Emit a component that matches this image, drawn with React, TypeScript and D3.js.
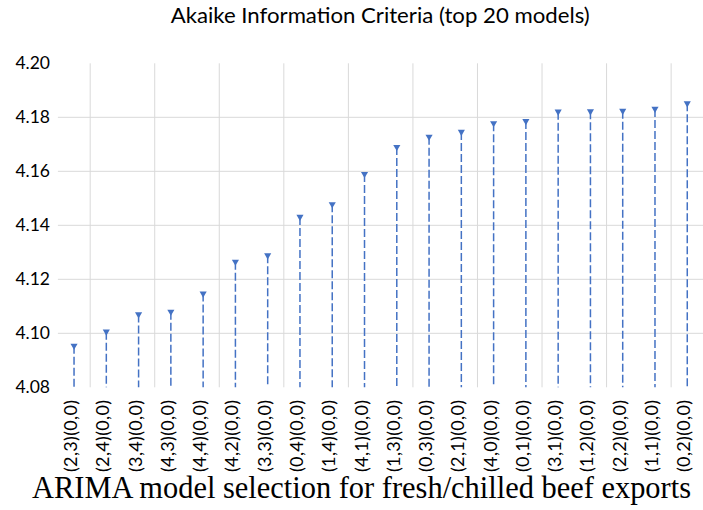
import React from "react";
import * as d3 from "d3";

const models = [
  "(2,3)(0,0)", "(2,4)(0,0)", "(3,4)(0,0)", "(4,3)(0,0)", "(4,4)(0,0)",
  "(4,2)(0,0)", "(3,3)(0,0)", "(0,4)(0,0)", "(1,4)(0,0)", "(4,1)(0,0)",
  "(1,3)(0,0)", "(0,3)(0,0)", "(2,1)(0,0)", "(4,0)(0,0)", "(0,1)(0,0)",
  "(3,1)(0,0)", "(1,2)(0,0)", "(2,2)(0,0)", "(1,1)(0,0)", "(0,2)(0,0)",
];
const aicValues = [
  4.0954, 4.1006, 4.107, 4.108, 4.1147,
  4.1265, 4.1289, 4.1431, 4.1478, 4.159,
  4.169, 4.1728, 4.1746, 4.1778, 4.1786,
  4.1821, 4.1822, 4.1824, 4.1831, 4.1852,
];
const yTicks = [4.08, 4.1, 4.12, 4.14, 4.16, 4.18, 4.2];
const gridTicks = [4.1, 4.12, 4.14, 4.16, 4.18];
const titleText = "Akaike Information Criteria (top 20 models)";
const captionText = "ARIMA model selection for fresh/chilled beef exports";

const W = 703;
const H = 510;
const BLUE = "#4472C4";
const GRID = "#D9D9D9";

export default function App() {
  const x = d3.scaleBand<string>().domain(models).range([57.9, 703.4]).padding(0);
  const y = d3.scaleLinear().domain([4.08, 4.2]).range([387.3, 63.3]);
  const bw = x.bandwidth();
  const fmt = d3.format(".2f");
  const vGrid = d3.range(1, models.length, 2).map((k) => 57.9 + bw * k);
  const tri = d3.symbol().type(d3.symbolTriangle).size(22)();

  return (
    <svg
      width={W}
      height={H}
      style={{ position: "absolute", left: 0, top: 0, display: "block", background: "#fff" }}
    >
      <rect x={0} y={0} width={W} height={H} fill="#fff" />
      {gridTicks.map((t) => (
        <line key={"h" + t} x1={57.9} x2={703.4} y1={y(t)} y2={y(t)} stroke={GRID} strokeWidth={1} />
      ))}
      {vGrid.map((gx, i) => (
        <line key={"v" + i} x1={gx} x2={gx} y1={y(4.2)} y2={y(4.08)} stroke={GRID} strokeWidth={1} />
      ))}
      {yTicks.map((t) => (
        <text
          key={"yt" + t}
          x={50}
          y={y(t)}
          dy="0.33em"
          textAnchor="end"
          fontFamily="Lato, 'Open Sans', sans-serif"
          fontSize={17.5}
          fill="#000"
        >
          {fmt(t)}
        </text>
      ))}
      {models.map((m, i) => {
        const cx = (x(m) as number) + bw / 2;
        const cy = y(aicValues[i]);
        return (
          <g key={m}>
            <line
              x1={cx}
              x2={cx}
              y1={cy}
              y2={y(4.08)}
              stroke={BLUE}
              strokeWidth={1.5}
              strokeDasharray="8,3"
            />
            <path d={tri as string} transform={`translate(${cx},${cy}) rotate(180)`} fill={BLUE} />
          </g>
        );
      })}
      {models.map((m) => {
        const cx = (x(m) as number) + bw / 2;
        return (
          <text
            key={"xl" + m}
            transform={`translate(${cx + 3},400) rotate(-90)`}
            textAnchor="end"
            fontFamily="Lato, 'Open Sans', sans-serif"
            fontSize={18}
            textLength={72}
            lengthAdjust="spacing"
            fill="#000"
          >
            {m}
          </text>
        );
      })}
      <text
        x={170.7}
        y={23.3}
        fontFamily="Lato, 'Open Sans', sans-serif"
        fontSize={20.5}
        textLength={419}
        lengthAdjust="spacingAndGlyphs"
        fill="#000"
      >
        {titleText}
      </text>
      <text
        x={32}
        y={498}
        fontFamily="'Liberation Serif', 'DejaVu Serif', serif"
        fontSize={31}
        textLength={659}
        lengthAdjust="spacingAndGlyphs"
        fill="#000"
      >
        {captionText}
      </text>
    </svg>
  );
}
